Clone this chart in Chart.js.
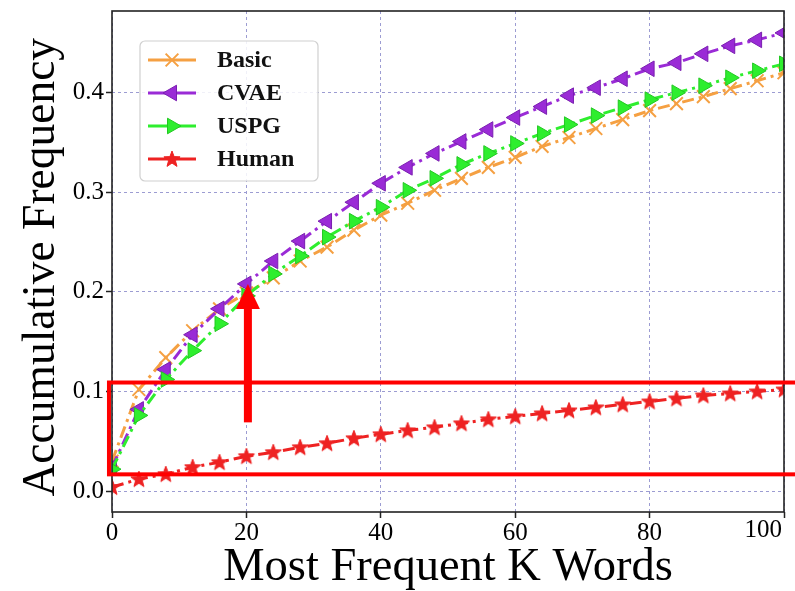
<!DOCTYPE html>
<html><head><meta charset="utf-8">
<script src="https://cdn.jsdelivr.net/npm/chart.js@4.4.0/dist/chart.umd.min.js"></script>
<style>html,body{margin:0;padding:0;background:#fff;overflow:hidden}#wrap{width:795px;height:591px;position:relative}</style>
</head><body><div id="wrap"><canvas id="c" width="795" height="591"></canvas></div>
<script>
// ---- data ----
const kValues = [0,4,8,12,16,20,24,28,32,36,40,44,48,52,56,60,64,68,72,76,80,84,88,92,96,100];
const basic = [0.030,0.102,0.134,0.161,0.183,0.199,0.214,0.231,0.245,0.262,0.277,0.289,0.302,0.314,0.325,0.335,0.346,0.355,0.364,0.373,0.382,0.389,0.396,0.404,0.412,0.420];
const cvae  = [0.024,0.082,0.122,0.157,0.183,0.208,0.231,0.251,0.271,0.290,0.309,0.325,0.339,0.351,0.363,0.375,0.386,0.397,0.405,0.414,0.424,0.430,0.439,0.447,0.453,0.460];
const uspg  = [0.022,0.076,0.112,0.141,0.168,0.196,0.218,0.236,0.255,0.271,0.285,0.302,0.314,0.328,0.339,0.349,0.359,0.368,0.377,0.385,0.393,0.400,0.407,0.415,0.422,0.429];
const human = [0.004,0.012,0.017,0.024,0.029,0.035,0.039,0.044,0.048,0.053,0.057,0.061,0.064,0.068,0.072,0.075,0.078,0.081,0.084,0.087,0.090,0.093,0.096,0.098,0.100,0.102];
const seriesNames = ['Basic','CVAE','USPG','Human'];
const xTicks = [0,20,40,60,80,100];
const yTicks = [0.0,0.1,0.2,0.3,0.4];
const xTitle = 'Most Frequent K Words';
const yTitle = 'Accumulative Frequency';
// highlighted region (data units) and arrow (data units)
const boxK = [-0.45, 110];
const boxFreq = [0.0168, 0.109];
const arrowK = 20;
const arrowFreq = [0.069, 0.208];

// ---- styling ----
const SERIF = "'Liberation Serif','Times New Roman',serif";
const ORANGE = '#F5A042', PURPLE = '#9A2BD6', GREEN = '#2EEE2E', RED = '#EE2222';
const DASHDOT = [12,5,3,5];

function makeStar(color, R){
  const s = Math.ceil(R*2+3);
  const c = document.createElement('canvas'); c.width = s; c.height = s;
  const g = c.getContext('2d');
  g.translate(s/2, s/2+0.5);
  g.beginPath();
  for (let i=0;i<10;i++){
    const r = i%2 ? R*0.42 : R;
    const a = -Math.PI/2 + i*Math.PI/5;
    g.lineTo(r*Math.cos(a), r*Math.sin(a));
  }
  g.closePath();
  g.fillStyle = color; g.fill();
  g.lineWidth = 1; g.strokeStyle = color; g.stroke();
  return c;
}
const starImg = makeStar(RED, 8.5);

const xy = arr => arr.map((v,i)=>({x:kValues[i], y:v}));

const datasets = [
  {label:seriesNames[0], data:xy(basic), borderColor:ORANGE, backgroundColor:ORANGE, borderWidth:3, borderDash:DASHDOT,
   pointStyle:'crossRot', pointRadius:9, pointBorderWidth:2, pointBorderColor:ORANGE, pointBackgroundColor:ORANGE, order:4},
  {label:seriesNames[1], data:xy(cvae), borderColor:PURPLE, backgroundColor:PURPLE, borderWidth:3, borderDash:DASHDOT,
   pointStyle:'triangle', pointRotation:-90, pointRadius:9, pointBorderWidth:1, pointBorderColor:'#7a1fb0', pointBackgroundColor:PURPLE, order:3},
  {label:seriesNames[2], data:xy(uspg), borderColor:GREEN, backgroundColor:GREEN, borderWidth:3, borderDash:DASHDOT,
   pointStyle:'triangle', pointRotation:90, pointRadius:9, pointBorderWidth:1, pointBorderColor:'#22c822', pointBackgroundColor:GREEN, order:2},
  {label:seriesNames[3], data:xy(human), borderColor:RED, backgroundColor:RED, borderWidth:3, borderDash:DASHDOT,
   pointStyle:starImg, pointRadius:8, pointBorderWidth:0, order:1}
];
datasets.forEach(d=>{ d.clip = 0; d.tension = 0; d.fill = false; });

const overlay = {
  id:'overlay',
  afterDatasetsDraw(chart){
    const {ctx, chartArea:a, scales:{x,y}} = chart;
    ctx.save();
    // frame
    ctx.strokeStyle = '#222'; ctx.lineWidth = 1.6; ctx.setLineDash([]);
    ctx.strokeRect(a.left, a.top, a.right-a.left, a.bottom-a.top);
    // highlighted box
    ctx.strokeStyle = '#FF0000'; ctx.lineWidth = 4;
    const bx1 = x.getPixelForValue(boxK[0]), bx2 = x.getPixelForValue(boxK[1]);
    const by1 = y.getPixelForValue(boxFreq[1]), by2 = y.getPixelForValue(boxFreq[0]);
    ctx.strokeRect(bx1, by1, bx2-bx1, by2-by1);
    // arrow
    const ax = x.getPixelForValue(arrowK)+1.5;
    const yb = y.getPixelForValue(arrowFreq[0]), yt = y.getPixelForValue(arrowFreq[1]);
    const headH = 25, headW = 24, shaftW = 8;
    ctx.fillStyle = '#FF0000';
    ctx.fillRect(ax-shaftW/2, yt+headH-1, shaftW, yb-(yt+headH-1));
    ctx.beginPath(); ctx.moveTo(ax, yt); ctx.lineTo(ax+headW/2, yt+headH); ctx.lineTo(ax-headW/2, yt+headH); ctx.closePath(); ctx.fill();
    ctx.restore();
  },
  afterDraw(chart){
    const {ctx, chartArea:a} = chart;
    ctx.save();
    // last x tick label, right-aligned at axis end
    ctx.fillStyle = '#000'; ctx.font = '25px ' + SERIF; ctx.textAlign = 'right'; ctx.textBaseline = 'top';
    ctx.fillText(String(xTicks[xTicks.length-1]), a.right-2, a.bottom+6);
    // legend
    const lx = a.left+28, ly = a.top+30, lw = 178, lh = 140;
    ctx.beginPath(); ctx.roundRect(lx, ly, lw, lh, 5);
    ctx.fillStyle = 'rgba(255,255,255,0.85)'; ctx.fill();
    ctx.strokeStyle = '#d0d0d0'; ctx.lineWidth = 1.2; ctx.stroke();
    chart.data.datasets.forEach((d,i)=>{
      const cy = ly + 19 + i*33;
      const x1 = lx+8, x2 = lx+56, cx = (x1+x2)/2;
      ctx.setLineDash([]);
      ctx.strokeStyle = d.borderColor; ctx.lineWidth = 3;
      ctx.beginPath(); ctx.moveTo(x1, cy); ctx.lineTo(x2, cy); ctx.stroke();
      ctx.fillStyle = d.pointBackgroundColor || d.borderColor;
      ctx.strokeStyle = d.pointBorderColor || d.borderColor;
      ctx.lineWidth = d.pointBorderWidth;
      Chart.helpers.drawPoint(ctx, {pointStyle:d.pointStyle, rotation:d.pointRotation||0, radius:d.pointRadius, borderWidth:d.pointBorderWidth}, cx, cy);
      ctx.fillStyle = '#111'; ctx.font = 'bold 24px ' + SERIF; ctx.textAlign = 'left'; ctx.textBaseline = 'middle';
      ctx.fillText(d.label, lx+77, cy+1);
    });
    ctx.restore();
  }
};

new Chart(document.getElementById('c'), {
  type:'line',
  data:{datasets},
  options:{
    responsive:false, animation:false, devicePixelRatio:1,
    layout:{padding:{top:10,right:10,left:0,bottom:0}},
    plugins:{legend:{display:false}, tooltip:{enabled:false}},
    scales:{
      x:{type:'linear', min:0, max:100,
        afterBuildTicks:s=>{ s.ticks = xTicks.map(v=>({value:v})); },
        afterFit:s=>{ s.height = 79; s.paddingLeft = 0; s.paddingRight = 0; },
        ticks:{color:'#000', font:{family:SERIF, size:25}, padding:0, maxRotation:0,
          callback:v=> v===xTicks[xTicks.length-1] ? '' : String(v)},
        grid:{color:'#9c9cd2', lineWidth:1, tickColor:'#222', tickLength:6, tickWidth:1.5},
        border:{display:false, dash:[3,3]},
        title:{display:true, text:xTitle, color:'#000', font:{family:SERIF, size:46.5, lineHeight:1.0}, padding:{top:0,bottom:0}}
      },
      y:{type:'linear', min:-0.021, max:0.482,
        afterBuildTicks:s=>{ s.ticks = yTicks.map(v=>({value:v})); },
        afterFit:s=>{ s.width = 112; s.paddingTop = 0; s.paddingBottom = 0; },
        ticks:{color:'#000', font:{family:SERIF, size:25}, padding:2, callback:v=>Number(v).toFixed(1)},
        grid:{color:'#9c9cd2', lineWidth:1, tickColor:'#222', tickLength:6, tickWidth:1.5},
        border:{display:false, dash:[3,3]},
        title:{display:true, text:yTitle + ' ', color:'#000', font:{family:SERIF, size:45.5, lineHeight:1.0}, padding:{top:19,bottom:0}}
      }
    }
  },
  plugins:[overlay]
});
</script></body></html>
